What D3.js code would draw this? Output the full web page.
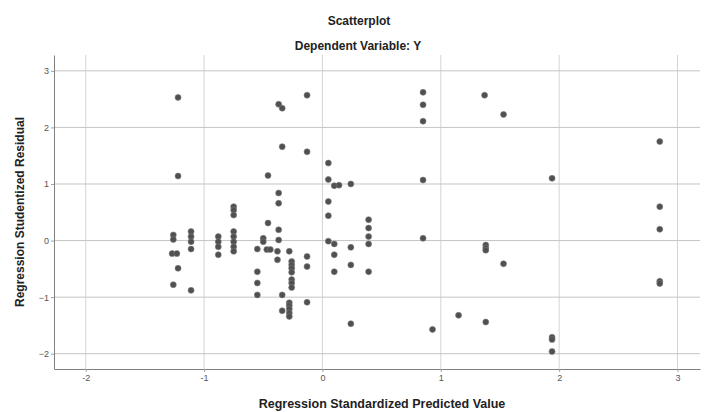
<!DOCTYPE html>
<html lang="en">
<head>
<meta charset="UTF-8">
<title>Scatterplot</title>
<script src="https://d3js.org/d3.v7.min.js"></script>
<style>
  body { margin: 0; background: #fff; }
  svg text { font-family: "Liberation Sans", Arial, sans-serif; }
</style>
</head>
<body>
<script>
// Chart values
const predictedValues = [
  -1.22, -1.22, -1.26, -1.26, -1.27, -1.23, -1.22, -1.26,
  -1.11, -1.11, -1.11, -1.11, -1.11,
  -0.88, -0.88, -0.88, -0.88,
  -0.75, -0.75, -0.75, -0.75, -0.75, -0.75, -0.75, -0.75,
  -0.55, -0.55, -0.55, -0.55,
  -0.50, -0.50, -0.47, -0.44, -0.46, -0.46,
  -0.37, -0.34, -0.34, -0.37, -0.37, -0.37, -0.37, -0.38, -0.38, -0.34, -0.34,
  -0.28, -0.26, -0.26, -0.26, -0.26, -0.26, -0.26, -0.26,
  -0.28, -0.28, -0.28, -0.28, -0.28,
  -0.13, -0.13, -0.13, -0.13, -0.13,
  0.05, 0.05, 0.05, 0.05, 0.05, 0.10, 0.14, 0.10, 0.10, 0.10,
  0.24, 0.24, 0.24, 0.24,
  0.39, 0.39, 0.39, 0.39, 0.39,
  0.85, 0.85, 0.85, 0.85, 0.85, 0.93, 1.15,
  1.37, 1.38, 1.38, 1.38, 1.38, 1.53, 1.53,
  1.94, 1.94, 1.94, 1.94,
  2.85, 2.85, 2.85, 2.85, 2.85
];
const residuals = [
  2.53, 1.14, 0.10, 0.02, -0.23, -0.23, -0.49, -0.78,
  0.16, 0.07, -0.02, -0.15, -0.88,
  0.07, -0.02, -0.11, -0.25,
  0.60, 0.54, 0.45, 0.16, 0.07, -0.02, -0.11, -0.19,
  -0.15, -0.55, -0.75, -0.96,
  0.04, -0.02, -0.16, -0.16, 0.31, 1.15,
  2.41, 2.34, 1.66, 0.84, 0.66, 0.19, 0.01, -0.19, -0.34, -0.96, -1.24,
  -0.19, -0.37, -0.43, -0.49, -0.56, -0.69, -0.75, -0.83,
  -1.10, -1.15, -1.21, -1.28, -1.34,
  2.57, 1.57, -0.28, -0.46, -1.09,
  1.37, 1.08, 0.69, 0.44, -0.01, 0.97, 0.98, -0.06, -0.25, -0.55,
  1.00, -0.12, -0.43, -1.47,
  0.37, 0.22, 0.07, -0.06, -0.55,
  2.62, 2.40, 2.11, 1.07, 0.04, -1.57, -1.32,
  2.57, -0.08, -0.13, -0.17, -1.44, 2.23, -0.41,
  1.10, -1.71, -1.75, -1.96,
  1.75, 0.60, 0.20, -0.72, -0.76
];
const xTicks = [-2, -1, 0, 1, 2, 3];
const yTicks = [-2, -1, 0, 1, 2, 3];

const w = 705, h = 412;
const plotLeft = 54, plotRight = 700, plotTop = 55, plotBottom = 369;

const svg = d3.select("body").append("svg")
  .attr("width", w).attr("height", h);

const x = d3.scaleLinear().domain([-2.268, 3.19]).range([plotLeft, plotRight]);
const y = d3.scaleLinear().domain([-2.27, 3.28]).range([plotBottom, plotTop]);

// gridlines
svg.append("g")
  .selectAll("line")
  .data(xTicks)
  .join("line")
  .attr("x1", d => x(d)).attr("x2", d => x(d))
  .attr("y1", plotTop).attr("y2", plotBottom)
  .attr("stroke", "#d4d4d4").attr("stroke-width", 1);

svg.append("g")
  .selectAll("line")
  .data(yTicks)
  .join("line")
  .attr("x1", plotLeft).attr("x2", plotRight)
  .attr("y1", d => y(d)).attr("y2", d => y(d))
  .attr("stroke", "#c4c4c4").attr("stroke-width", 1);

// axes
const yAxis = svg.append("g")
  .attr("transform", `translate(${plotLeft},0)`)
  .call(d3.axisLeft(y).tickValues(yTicks).tickSize(3).tickSizeOuter(0).tickFormat(d3.format("d")));

const xAxis = svg.append("g")
  .attr("transform", `translate(0,${plotBottom})`)
  .call(d3.axisBottom(x).tickValues(xTicks).tickSize(3).tickSizeOuter(0).tickFormat(d => d < 0 ? "-" + Math.abs(d) : d));

[xAxis, yAxis].forEach(g => {
  g.select(".domain").attr("stroke", "#808080");
  g.selectAll(".tick line").attr("stroke", "#a0a0a0");
  g.selectAll(".tick text")
    .attr("fill", "#555")
    .style("font-size", "9px");
});
yAxis.selectAll(".tick text").attr("x", -5);
xAxis.selectAll(".tick text").attr("y", 6);

// points
svg.append("g")
  .selectAll("circle")
  .data(predictedValues.map((v, i) => [v, residuals[i]]))
  .join("circle")
  .attr("cx", d => x(d[0]))
  .attr("cy", d => y(d[1]))
  .attr("r", 3)
  .attr("fill", "#505050")
  .attr("stroke", "#7a7a7a")
  .attr("stroke-width", 0.6);

// titles
svg.append("text")
  .attr("x", 359).attr("y", 25)
  .attr("text-anchor", "middle")
  .style("font-size", "12px").style("font-weight", "bold")
  .attr("fill", "#222")
  .text("Scatterplot");

svg.append("text")
  .attr("x", 358).attr("y", 50)
  .attr("text-anchor", "middle")
  .style("font-size", "12px").style("font-weight", "bold")
  .attr("fill", "#222")
  .text("Dependent Variable: Y");

svg.append("text")
  .attr("x", 382).attr("y", 408)
  .attr("text-anchor", "middle")
  .style("font-size", "12.5px").style("font-weight", "bold")
  .attr("fill", "#222")
  .text("Regression Standardized Predicted Value");

svg.append("text")
  .attr("transform", `translate(24,${(plotTop + plotBottom) / 2}) rotate(-90)`)
  .attr("text-anchor", "middle")
  .style("font-size", "12px").style("font-weight", "bold")
  .attr("fill", "#222")
  .text("Regression Studentized Residual");
</script>
</body>
</html>
